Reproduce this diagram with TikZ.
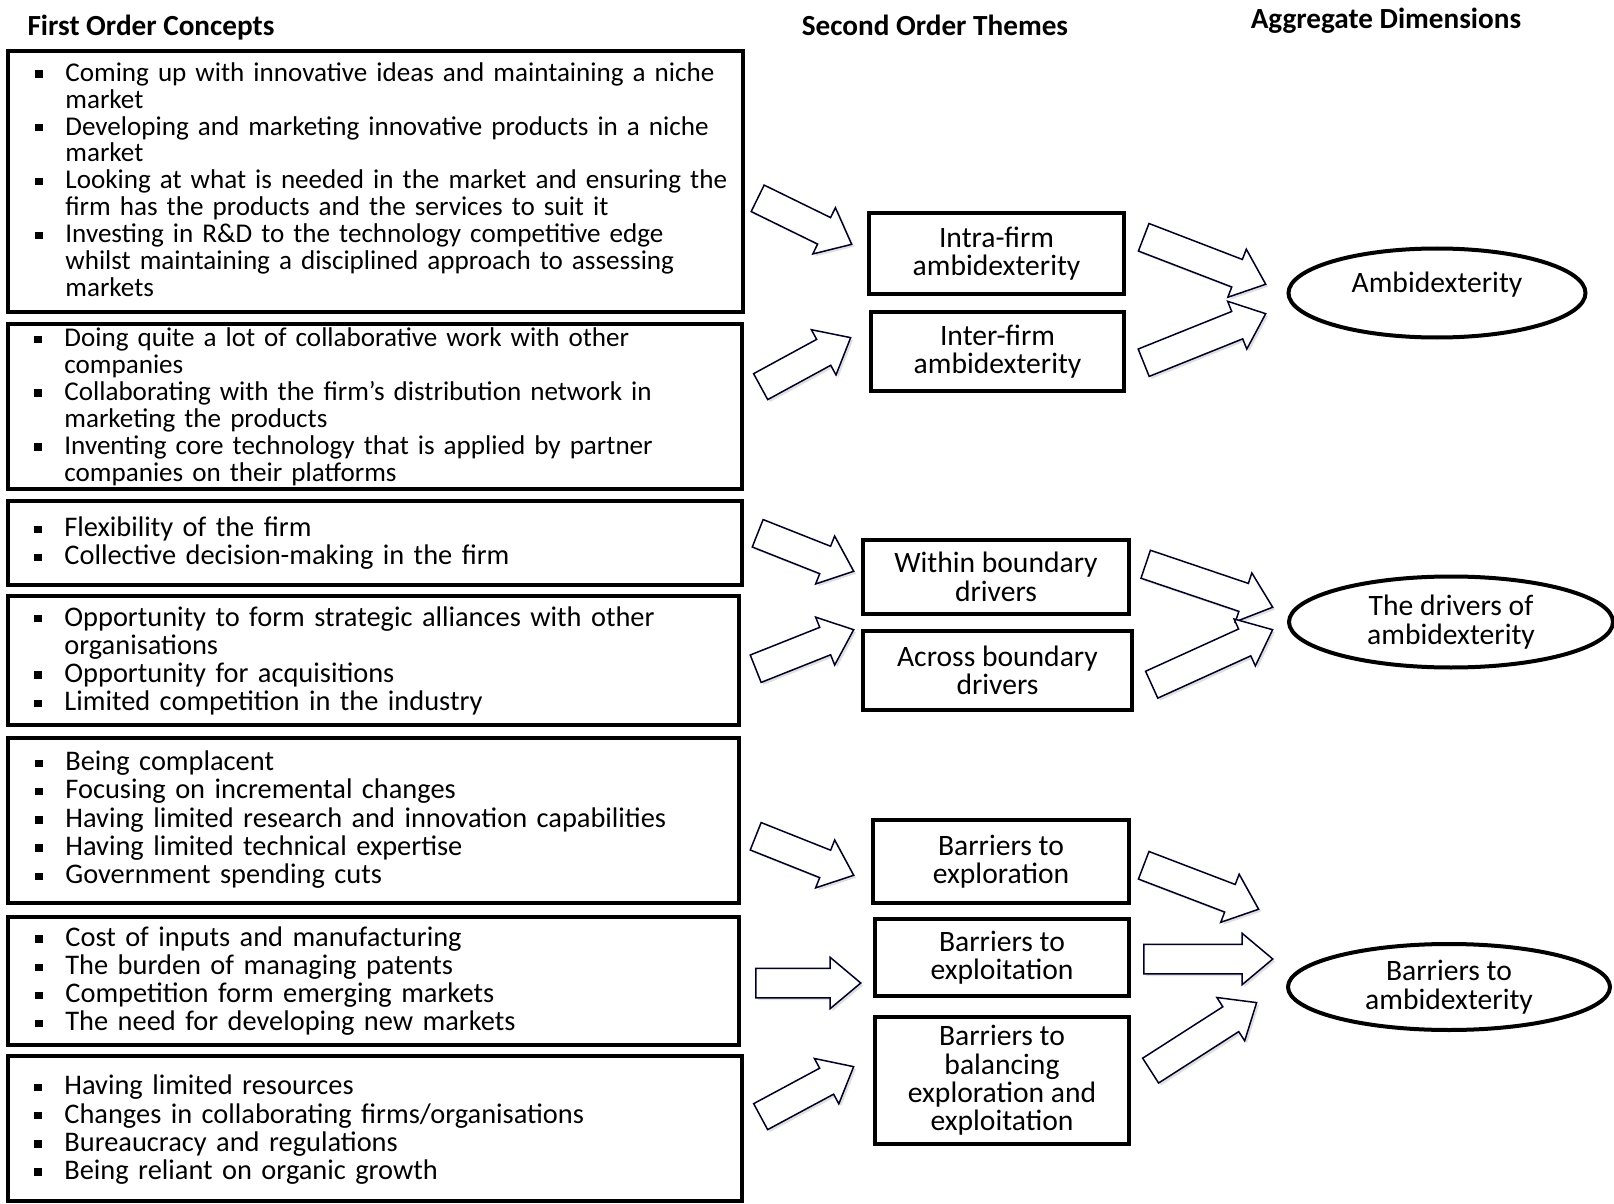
\documentclass[tikz,border=0pt]{standalone}
\usepackage{fontspec}
\setmainfont{Carlito}
\usetikzlibrary{shapes.geometric,shapes.arrows,calc,shadows}
\newcommand\bitem[1]{\par\noindent\hangindent=15pt\hangafter=1\makebox[15pt][l]{\raisebox{1.8pt}{\rule{3.7pt}{3.7pt}}}#1\par}
\newcommand\barrow[2]{\path let \p1=($(#2)-(#1)$), \n1={veclen(\x1,\y1)}, \n2={atan2(\y1,\x1)} in node[barr, minimum height=\n1, rotate=\n2, anchor=tail] at (#1) {};}
\tikzset{
  fobox/.style={draw, line width=2pt, inner sep=0pt},
  fotext/.style={anchor=west, inner sep=0pt, align=left, text width=350pt},
  tight/.style={font=\fontsize{13.55}{13.45}\selectfont},
  loose/.style={font=\fontsize{14.2}{14.1}\selectfont},
  so/.style={draw, line width=2pt, align=center, inner sep=0pt, font=\fontsize{14.8}{14.2}\selectfont},
  agg/.style={draw, ellipse, line width=2pt, align=center, inner sep=0pt, font=\fontsize{14.8}{14.2}\selectfont},
  hdr/.style={font=\bfseries\fontsize{14.6}{16}\selectfont, inner sep=0pt},
  barr/.style={single arrow, draw=black!85!blue, line width=0.75pt, fill=white, inner xsep=0pt, inner ysep=7pt, single arrow head extend=5.5pt, single arrow tip angle=80, drop shadow={opacity=0.25, shadow xshift=1.2pt, shadow yshift=-1.2pt}},
}
\begin{document}
\begin{tikzpicture}[x=0.5pt,y=-0.5pt]
\useasboundingbox (0,0) rectangle (1614,1204);
% headers
\node[hdr] (h1) at (151,28) {First Order Concepts};
\node[hdr] (h2) at (935,25) {Second Order Themes};
\node[hdr] (h3) at (1386,21) {Aggregate Dimensions};
% first order boxes
\node[fobox, minimum width=367.5pt, minimum height=130.5pt] (f1) at (375.5,181.5) {};
\node[fobox, minimum width=367pt, minimum height=82.5pt] (f2) at (375,406.5) {};
\node[fobox, minimum width=367pt, minimum height=42pt] (f3) at (375,543) {};
\node[fobox, minimum width=365.5pt, minimum height=64.5pt] (f4) at (373.5,660.5) {};
\node[fobox, minimum width=365.5pt, minimum height=82.5pt] (f5) at (373.5,820.5) {};
\node[fobox, minimum width=365.5pt, minimum height=64pt] (f6) at (373.5,981) {};
\node[fobox, minimum width=367pt, minimum height=72.5pt] (f7) at (375,1128.5) {};
\node[fotext, tight] (t1) at ([xshift=14.5pt,yshift=3pt]f1.west) {%
\bitem{Coming up with innovative ideas and maintaining a niche\newline market}
\bitem{Developing and marketing innovative products in a niche\newline market}
\bitem{Looking at what is needed in the market and ensuring the\newline firm has the products and the services to suit it}
\bitem{Investing in R\&D to the technology competitive edge\newline whilst maintaining a disciplined approach to assessing\newline markets}};
\node[fotext, tight] (t2) at ([xshift=14pt,yshift=2pt]f2.west) {%
\bitem{Doing quite a lot of collaborative work with other\newline companies}
\bitem{Collaborating with the firm’s distribution network in\newline marketing the products}
\bitem{Inventing core technology that is applied by partner\newline companies on their platforms}};
\node[fotext, loose] (t3) at ([xshift=14pt,yshift=2pt]f3.west) {%
\bitem{Flexibility of the firm}
\bitem{Collective decision-making in the firm}};
\node[fotext, loose] (t4) at ([xshift=14pt,yshift=2pt]f4.west) {%
\bitem{Opportunity to form strategic alliances with other\newline organisations}
\bitem{Opportunity for acquisitions}
\bitem{Limited competition in the industry}};
\node[fotext, loose] (t5) at ([xshift=14.5pt,yshift=2.5pt]f5.west) {%
\bitem{Being complacent}
\bitem{Focusing on incremental changes}
\bitem{Having limited research and innovation capabilities}
\bitem{Having limited technical expertise}
\bitem{Government spending cuts}};
\node[fotext, loose] (t6) at ([xshift=14.5pt,yshift=2pt]f6.west) {%
\bitem{Cost of inputs and manufacturing}
\bitem{The burden of managing patents}
\bitem{Competition form emerging markets}
\bitem{The need for developing new markets}};
\node[fotext, loose] (t7) at ([xshift=14pt,yshift=1.5pt]f7.west) {%
\bitem{Having limited resources}
\bitem{Changes in collaborating firms/organisations}
\bitem{Bureaucracy and regulations}
\bitem{Being reliant on organic growth}};
% second order themes
\node[so, minimum width=127.5pt, minimum height=40.5pt] (s1) at (996.5,253.5) {Intra-firm\\ambidexterity};
\node[so, minimum width=126.5pt, minimum height=39.5pt] (s2) at (997.5,351.5) {Inter-firm\\ambidexterity};
\node[so, minimum width=133pt, minimum height=37pt] (s3) at (996,577) {Within boundary\\drivers};
\node[so, minimum width=134.5pt, minimum height=39.5pt] (s4) at (997.5,670.5) {Across boundary\\drivers};
\node[so, minimum width=128pt, minimum height=41.5pt] (s5) at (1001,861.5) {Barriers to\\exploration};
\node[so, minimum width=127pt, minimum height=38.5pt] (s6) at (1002,957.5) {Barriers to\\exploitation};
\node[so, minimum width=127pt, minimum height=63.5pt] (s7) at (1002,1080.5) {Barriers to\\balancing\\exploration and\\exploitation};
% aggregate dimensions
\node[agg, minimum width=148.5pt, minimum height=44.5pt, text depth=11pt] (d1) at (1437,293) {Ambidexterity};
\node[agg, minimum width=162pt, minimum height=45.5pt] (d2) at (1451,622) {The drivers of\\ambidexterity};
\node[agg, minimum width=161pt, minimum height=43pt] (d3) at (1449,987) {Barriers to\\ambidexterity};
% arrow end points
\coordinate (a1t) at (757,198);  \coordinate (a1h) at (851,244);
\coordinate (a2t) at (760,387);  \coordinate (a2h) at (850,338);
\coordinate (a3t) at (757,533);  \coordinate (a3h) at (853,571);
\coordinate (a4t) at (755,669);  \coordinate (a4h) at (853,630);
\coordinate (a5t) at (755,836);  \coordinate (a5h) at (853,875);
\coordinate (a6t) at (755,983);  \coordinate (a6h) at (860,983);
\coordinate (a7t) at (760,1117); \coordinate (a7h) at (853,1067);
\coordinate (b1t) at (1143,237); \coordinate (b1h) at (1265,284);
\coordinate (b2t) at (1143,363); \coordinate (b2h) at (1265,314);
\coordinate (b3t) at (1145,564); \coordinate (b3h) at (1272,607);
\coordinate (b4t) at (1151,685); \coordinate (b4h) at (1272,630);
\coordinate (b5t) at (1143,865); \coordinate (b5h) at (1258,909);
\coordinate (b6t) at (1143,959); \coordinate (b6h) at (1272,959);
\coordinate (b7t) at (1150,1071); \coordinate (b7h) at (1256,1003);
\barrow{a1t}{a1h}
\barrow{a2t}{a2h}
\barrow{a3t}{a3h}
\barrow{a4t}{a4h}
\barrow{a5t}{a5h}
\barrow{a6t}{a6h}
\barrow{a7t}{a7h}
\barrow{b1t}{b1h}
\barrow{b2t}{b2h}
\barrow{b3t}{b3h}
\barrow{b4t}{b4h}
\barrow{b5t}{b5h}
\barrow{b6t}{b6h}
\barrow{b7t}{b7h}
\end{tikzpicture}
\end{document}
